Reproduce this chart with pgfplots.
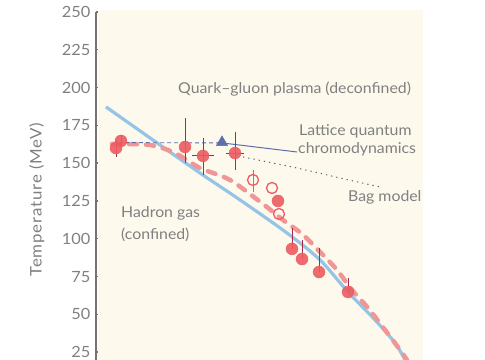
\documentclass[border=0pt]{standalone}
\usepackage{pgfplots}
\pgfplotsset{compat=1.18}
\usepackage{fontspec}
\setmainfont{Lato}[FakeStretch=1.06]
\newfontfamily\ylfont{Lato}[FakeStretch=1.06, LetterSpace=5]
\definecolor{beige}{RGB}{253,249,237}
\definecolor{txt}{RGB}{128,128,128}
\definecolor{lblue}{RGB}{150,196,230}
\definecolor{pink}{RGB}{240,150,150}
\definecolor{ptred}{RGB}{236,92,98}
\definecolor{ebar}{RGB}{170,40,75}
\definecolor{dblue}{RGB}{95,110,170}
\definecolor{dotc}{RGB}{100,100,115}
\begin{document}
\begin{tikzpicture}
\useasboundingbox (0,0) rectangle (485bp,360bp);
\begin{axis}[
  at={(96bp,0bp)}, anchor=south west,
  scale only axis, width=389bp, height=348bp,
  xmin=96, xmax=485, ymin=19.8, ymax=250,
  axis x line=none, axis y line*=left,
  clip=false,
  ytick={25,50,...,250},
  tick align=inside,
  major tick length=7bp,
  every tick/.style={color=txt!90!black, line width=1.4bp},
  axis line style={color=txt!90!black, line width=1.4bp},
  /pgf/number format/assume math mode=true,
  yticklabel style={font=\fontsize{15.5}{17}\selectfont, color=txt, xshift=-2bp},
  ylabel={Temperature (MeV)},
  ylabel style={font=\ylfont\fontsize{16}{18}\selectfont, color=txt, at={(axis description cs:-0.152,0.46)}, anchor=center},
]
% background
\addplot[draw=none, fill=beige] coordinates {(98,19.8) (423,19.8) (423,251.3) (98,251.3)} -- cycle;
% light blue line
\addplot[lblue, line width=3.2bp, smooth] coordinates {
(106,187.2) (150,166.7) (200,143.5) (240,125.7) (287,103.8) (320,86) (348,64.8) (375,46.3) (395,31.1) (405,19.8)};
% pink dashed line
\addplot[pink, line width=4.5bp, smooth, line cap=round, dash pattern=on 8bp off 9bp] coordinates {
(112,162.7) (150,162.0) (175,156.7) (200,146.8) (230,138.9) (263,123) (283,112.4) (302,103.2) (320,91.3) (337,79.4) (352,66.1) (368,54.2) (385,39.7) (400,26.5) (407,19.8)};
% lattice dashed thin
\addplot[dblue, line width=0.9bp, dash pattern=on 4bp off 3bp] coordinates {(118,163.6) (222,163.4)};
% lattice callout line
\addplot[dblue, line width=1bp] coordinates {(222,163.4) (297,157.4)};
% bag model dotted
\addplot[dotc, line width=1bp, smooth, dash pattern=on 1.3bp off 4bp] coordinates {(243,154.1) (297,146.8) (340,140.2) (380,134.3)};
% open circles
\addplot[only marks, mark=o, mark size=5.5bp, mark options={draw=ptred, fill=beige, line width=1.3bp},
  error bars/.cd, y dir=both, y explicit, error mark=none,
  error bar style={color=ptred, line width=1bp}]
  table[x=x, y=y, y error plus=ep, y error minus=em] {
x y ep em
253 138.9 6.6 7.9
272 133.6 0 0
279 116.4 0 0
};
% filled circles
\addplot[only marks, mark=*, mark size=6bp, mark options={draw=ptred, fill=ptred, fill opacity=0.9, draw opacity=0.9},
  error bars/.cd, y dir=both, y explicit, x dir=both, x explicit, error mark=none,
  error bar style={color=ebar, line width=0.9bp}]
  table[x=x, y=y, y error plus=ep, y error minus=em, x error plus=xe, x error minus=xe] {
x y ep em xe
116 160.0 5 6 0
121 164.7 4 3 0
185 160.7 19.2 10.6 0
203 154.8 11.9 12.6 11
235 156.7 13.9 11.2 9
278 125.0 0 0 0
292 93.3 13.8 0 0
302 86.6 12.6 0 0
319 78.0 15.9 0 0
348 64.8 9.3 0 0
};
% triangle
\addplot[only marks, mark=triangle*, mark size=6.5bp, mark options={draw=dblue, fill=dblue}] coordinates {(222,163.8)};
% labels
\node[anchor=base west, font=\fontsize{15}{17}\selectfont, color=txt, inner sep=0pt] at (axis cs:178,196.4) {Quark–gluon plasma (deconfined)};
\node[anchor=base west, font=\fontsize{15}{17}\selectfont, color=txt, inner sep=0pt] at (axis cs:299,168.6) {Lattice quantum};
\node[anchor=base west, font=\fontsize{15}{17}\selectfont, color=txt, inner sep=0pt] at (axis cs:298,156.1) {chromodynamics};
\node[anchor=base west, font=\fontsize{15}{17}\selectfont, color=txt, inner sep=0pt] at (axis cs:348,124.5) {Bag model};
\node[anchor=base west, font=\fontsize{15}{17}\selectfont, color=txt, inner sep=0pt] at (axis cs:121,113.8) {Hadron gas};
\node[anchor=base west, font=\fontsize{15}{17}\selectfont, color=txt, inner sep=0pt] at (axis cs:121,99.2) {(confined)};
\end{axis}
\end{tikzpicture}
\end{document}
